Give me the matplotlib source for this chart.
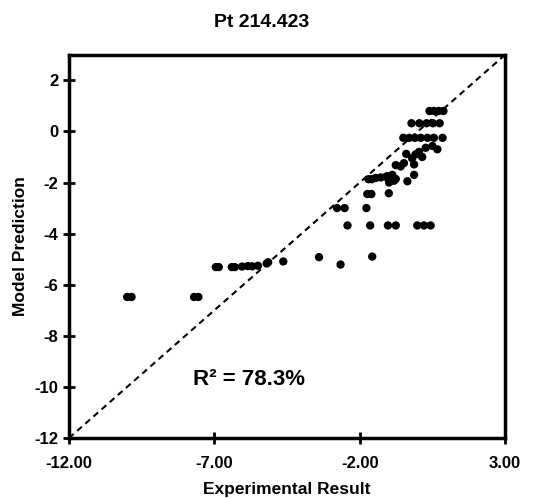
import numpy as np
from matplotlib import pyplot as plt
from matplotlib.ticker import FormatStrFormatter

plt.rcParams['font.family'] = ['Liberation Sans', 'DejaVu Sans']
plt.rcParams['axes.unicode_minus'] = False

# experimental vs predicted values
exp_result = [-10.0, -9.85, -7.7, -7.55,
              -6.95, -6.85, -6.4, -6.3, -6.05, -5.85, -5.7, -5.5, -5.2, -5.15,
              -4.63, -3.4, -2.66, -1.57,
              -2.78, -2.52, -1.77,
              -2.42, -1.64, -1.03, -0.76, -0.02, 0.21, 0.44,
              -1.74, -1.6, -1.0,
              -1.7, -1.58, -1.45, -1.28, -1.1, -0.88, -1.05, -0.76, -0.99, -0.82,
              -0.36, -0.13,
              -0.76, -0.59, -0.48, -0.13,
              -0.4, -0.08, 0.04, 0.27, 0.5, 0.67, -0.2, 0.15,
              -0.5, -0.3, -0.1, 0.1, 0.33, 0.55, 0.85,
              -0.22, 0.05, 0.3, 0.52, 0.75,
              0.4, 0.55, 0.72, 0.88]
model_pred = [-6.48, -6.48, -6.48, -6.48,
              -5.31, -5.31, -5.31, -5.31, -5.29, -5.27, -5.28, -5.26, -5.17, -5.12,
              -5.09, -4.92, -5.21, -4.9,
              -3.0, -3.0, -3.0,
              -3.68, -3.68, -3.68, -3.68, -3.68, -3.68, -3.68,
              -2.45, -2.45, -2.42,
              -1.87, -1.87, -1.82, -1.8, -1.78, -1.7, -1.75, -1.86, -2.0, -1.93,
              -1.95, -1.7,
              -1.32, -1.37, -1.24, -1.29,
              -0.88, -0.9, -0.8, -0.64, -0.57, -0.7, -1.05, -1.0,
              -0.25, -0.25, -0.25, -0.25, -0.25, -0.25, -0.25,
              0.32, 0.32, 0.32, 0.32, 0.32,
              0.8, 0.8, 0.8, 0.8]
r2_text = "R² = 78.3%"

fig = plt.figure(figsize=(5.49, 4.98), dpi=100)
ax = fig.add_axes([0.1257, 0.1205, 0.7943, 0.7695])

ax.plot([-12, 3], [-12, 3], color="black", linestyle=(0, (3, 2.2)), linewidth=1.5, zorder=1)
ax.scatter(exp_result, model_pred, s=36, color="black", edgecolors="none", zorder=2)

ax.set_xlim(-12, 3)
ax.set_ylim(-12, 3)
ax.set_xticks([-12, -7, -2, 3])
ax.set_yticks(np.arange(-12, 3, 2))
ax.xaxis.set_major_formatter(FormatStrFormatter("%.2f"))

for s in ax.spines.values():
    s.set_linewidth(2.5)
ax.tick_params(direction="inout", length=8, width=2, labelsize=12)
ax.tick_params(axis="x", pad=9)
for lbl in ax.get_xticklabels() + ax.get_yticklabels():
    lbl.set_fontweight("bold")

ax.set_xlabel("Experimental Result", fontsize=12.5, fontweight="bold", labelpad=8)
ax.set_ylabel("Model Prediction", fontsize=12.5, fontweight="bold", labelpad=5)
fig.text(0.477, 0.954, "Pt 214.423", fontsize=14, fontweight="bold", ha="center", va="center")

ax.text(-7.75, -9.7, r2_text, fontsize=16, fontweight="bold", va="center", ha="left")

fig.savefig("out.png", dpi=100)
